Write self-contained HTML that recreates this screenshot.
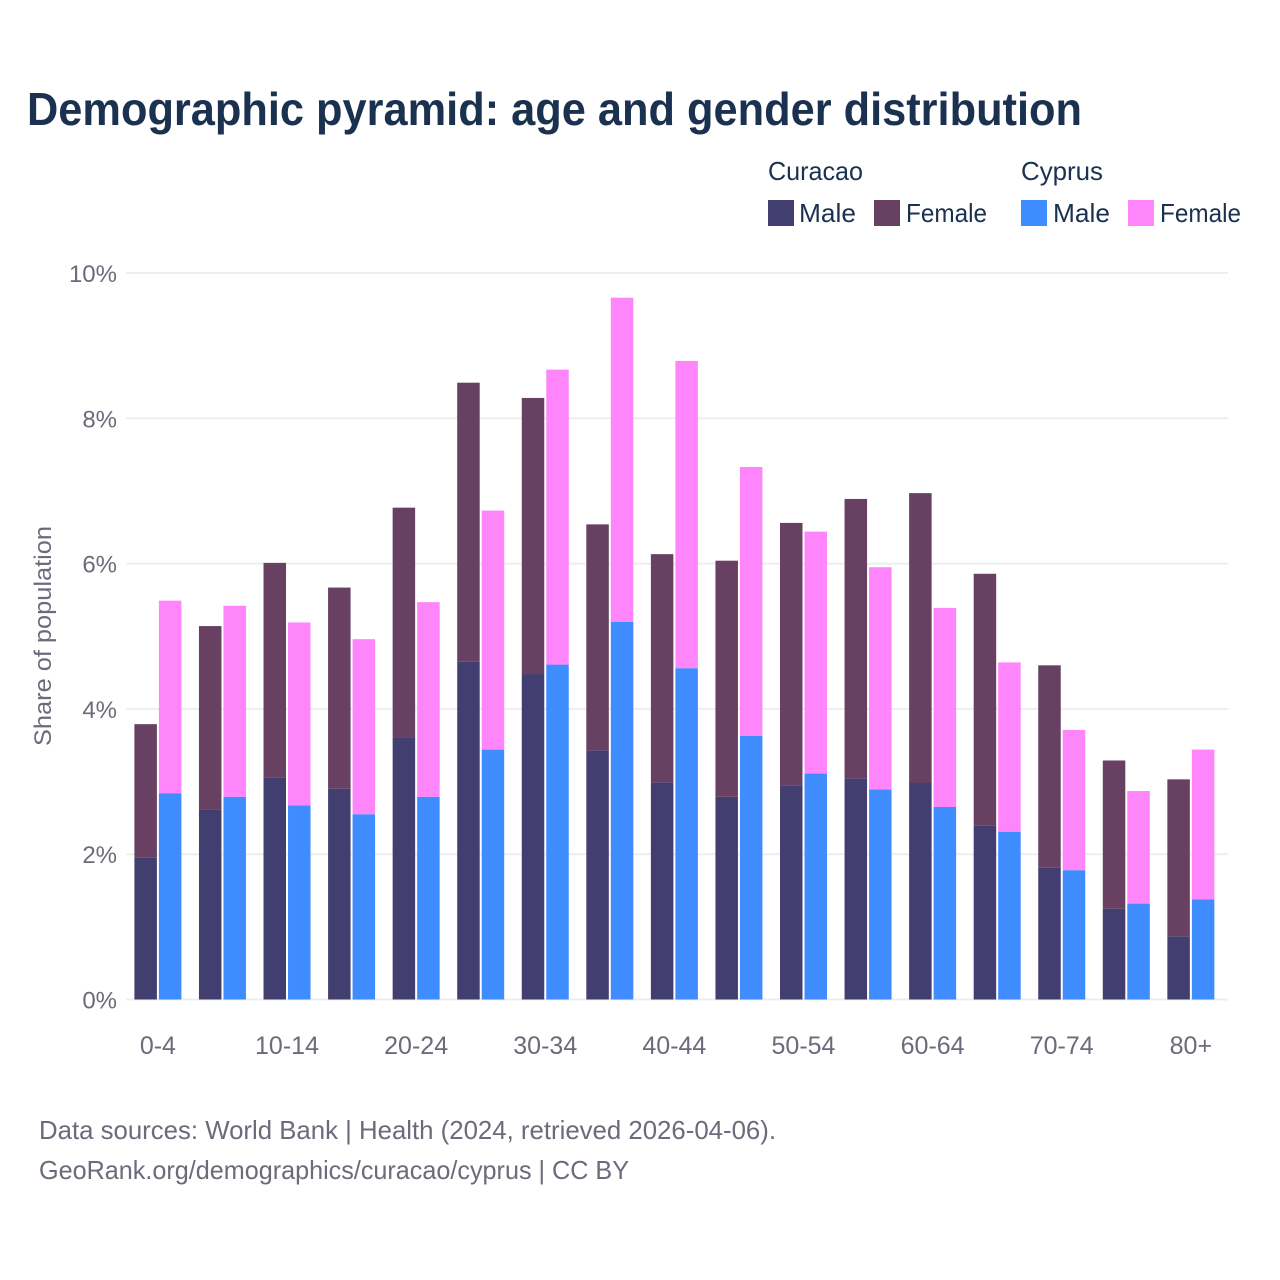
<!DOCTYPE html>
<html lang="en">
<head>
<meta charset="utf-8">
<title>Demographic pyramid</title>
<style>
html,body{margin:0;padding:0;background:#fff;}
svg{display:block;font-family:"Liberation Sans",sans-serif;}
</style>
</head>
<body>
<svg id="chart" width="1280" height="1280" viewBox="0 0 1280 1280" xmlns="http://www.w3.org/2000/svg">
  <rect width="1280" height="1280" fill="#ffffff"/>
  <text x="27" y="125" font-size="46" font-weight="700" fill="#1a3150" textLength="1055" lengthAdjust="spacingAndGlyphs">Demographic pyramid: age and gender distribution</text>

  <g font-size="26" fill="#1a3150">
    <text x="768" y="180" textLength="95" lengthAdjust="spacingAndGlyphs">Curacao</text>
    <text x="1021" y="180" textLength="82" lengthAdjust="spacingAndGlyphs">Cyprus</text>
    <rect x="768" y="200" width="26" height="26" fill="#433e70"/>
    <text x="799" y="222" textLength="57" lengthAdjust="spacingAndGlyphs">Male</text>
    <rect x="874" y="200" width="26" height="26" fill="#674062"/>
    <text x="906" y="222" textLength="81" lengthAdjust="spacingAndGlyphs">Female</text>
    <rect x="1021" y="200" width="26" height="26" fill="#3f8cff"/>
    <text x="1053" y="222" textLength="57" lengthAdjust="spacingAndGlyphs">Male</text>
    <rect x="1128" y="200" width="26" height="26" fill="#ff85fb"/>
    <text x="1160" y="222" textLength="81" lengthAdjust="spacingAndGlyphs">Female</text>
  </g>

  <g id="grid"></g>
  <g id="y-axis"></g>
  <g id="bars"></g>
  <g id="x-axis"></g>

  <text transform="translate(51,636) rotate(-90)" text-anchor="middle" font-size="24" fill="#6b6b7b" textLength="220" lengthAdjust="spacingAndGlyphs">Share of population</text>

  <text x="39" y="1139" font-size="26" fill="#6b6b7b" textLength="737" lengthAdjust="spacingAndGlyphs">Data sources: World Bank | Health (2024, retrieved 2026-04-06).</text>
  <text x="39" y="1179" font-size="26" fill="#6b6b7b" textLength="590" lengthAdjust="spacingAndGlyphs">GeoRank.org/demographics/curacao/cyprus | CC BY</text>
</svg>
<script>
const categories = ["0-4","5-9","10-14","15-19","20-24","25-29","30-34","35-39","40-44","45-49","50-54","55-59","60-64","65-69","70-74","75-79","80+"];
const curacaoMale = [1.95,2.62,3.06,2.90,3.60,4.65,4.48,3.43,2.99,2.79,2.95,3.04,2.98,2.39,1.82,1.25,0.87];
const curacaoFemale = [1.84,2.52,2.95,2.77,3.17,3.84,3.80,3.11,3.14,3.25,3.61,3.85,3.99,3.47,2.78,2.04,2.16];
const cyprusMale = [2.84,2.79,2.67,2.55,2.79,3.44,4.61,5.20,4.56,3.63,3.11,2.89,2.65,2.31,1.78,1.32,1.38];
const cyprusFemale = [2.65,2.63,2.52,2.41,2.68,3.29,4.06,4.46,4.23,3.70,3.33,3.06,2.74,2.33,1.93,1.55,2.06];
const yTicks = [0,2,4,6,8,10];
const xTickLabels = ["0-4","10-14","20-24","30-34","40-44","50-54","60-64","70-74","80+"];

const SVG_NS = "http://www.w3.org/2000/svg";
const plotLeft = 126, plotRight = 1228, firstCenter = 157.9, step = 64.56;
const yZero = 999.5, pxPerUnit = 72.65;
const barWidth = 22.5, barOffset = 12.25;
const xCenter = i => firstCenter + step * i;
const yScale = v => yZero - v * pxPerUnit;

function make(tag, attrs, parent) {
  const el = document.createElementNS(SVG_NS, tag);
  for (const k in attrs) el.setAttribute(k, attrs[k]);
  parent.appendChild(el);
  return el;
}

const gridG = document.getElementById("grid");
const yAxisG = document.getElementById("y-axis");
const xAxisG = document.getElementById("x-axis");
const barsG = document.getElementById("bars");

yTicks.forEach(t => {
  const line = make("line", {x1: plotLeft, x2: plotRight, y1: yScale(t), y2: yScale(t), stroke: "#eeeef2", "stroke-width": 2}, gridG);
  
  
  const label = make("text", {x: 117, y: yScale(t) + 9, "text-anchor": "end", "font-size": 24, fill: "#6b6b7b"}, yAxisG);
  
  
  label.textContent = t + "%";
});

xTickLabels.forEach(lbl => {
  const i = categories.indexOf(lbl);
  const label = make("text", {x: xCenter(i), y: 1054, "text-anchor": "middle", "font-size": 25, fill: "#6b6b7b"}, xAxisG);
  
  
  label.textContent = lbl;
});

function drawBar(x, base, value, fill, name) {
  const top = yScale(base + value);
  const bottom = yScale(base);
  const r = make("rect", {x: x, y: top, width: barWidth, height: bottom - top, fill: fill}, barsG);
  
  
}

categories.forEach((c, i) => {
  const cx = xCenter(i);
  const xA = cx - barOffset - barWidth / 2;
  const xB = cx + barOffset - barWidth / 2;
  drawBar(xA, 0, curacaoMale[i], "#433e70", "bar-curacao-male");
  drawBar(xA, curacaoMale[i], curacaoFemale[i], "#674062", "bar-curacao-female");
  drawBar(xB, 0, cyprusMale[i], "#3f8cff", "bar-cyprus-male");
  drawBar(xB, cyprusMale[i], cyprusFemale[i], "#ff85fb", "bar-cyprus-female");
});
</script>
</body>
</html>
